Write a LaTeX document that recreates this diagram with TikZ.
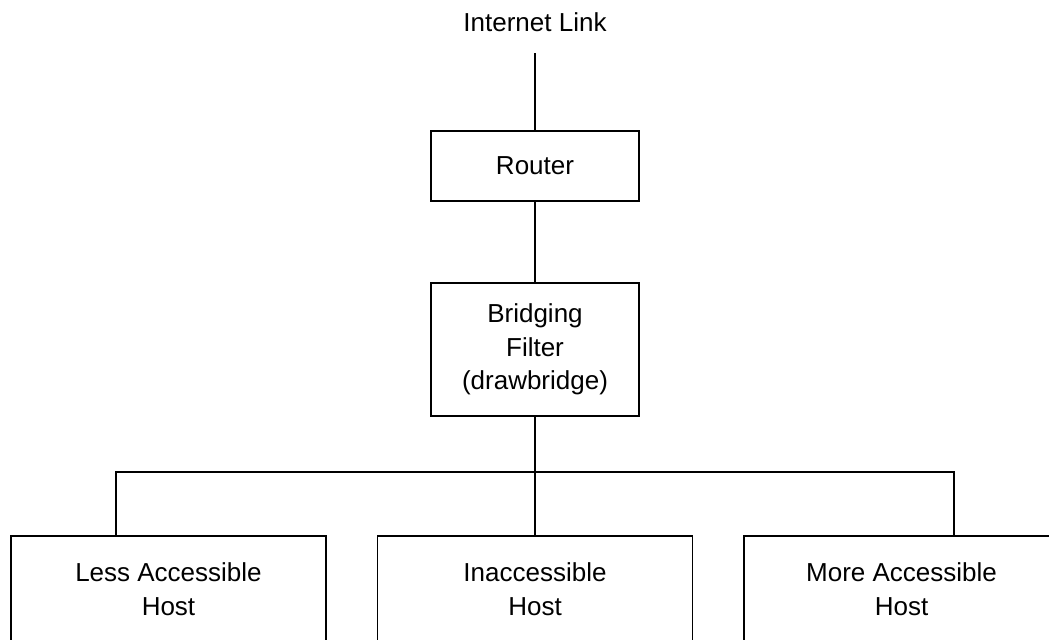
\documentclass[tikz,border=0pt]{standalone}
\usepackage{fontspec}
\setmainfont{Liberation Sans}
\usepackage{tikz}

\begin{document}
\begin{tikzpicture}[x=0.5pt,y=0.5pt,line width=0.8pt,
  every node/.style={font=\fontsize{13}{16.75}\selectfont, align=center},
  midbox/.style={draw, minimum width=104pt, inner sep=0pt},
  hostbox/.style={draw, minimum width=157.5pt, minimum height=53pt, inner sep=0pt}]
\clip (0,0) rectangle (1049,640);

\node [inner sep=0pt, anchor=base] (link) at (535,608) {Internet Link};
\node [midbox, minimum height=35pt] (router) at (535,474) {Router};
\node [midbox, minimum height=66.5pt] (bridge) at (535,290.5) {Bridging\\Filter\\(drawbridge)};

\node [hostbox] (lessHost) at (168.5,51) {Less Accessible\\Host};
\node [hostbox] (inHost) at (535,51) {Inaccessible\\Host};
\node [hostbox] (moreHost) at (901.5,51) {More Accessible\\Host};

\coordinate (bus) at (535,168);

\draw ([yshift=-10pt]link.south) -- (router);
\draw (router) -- (bridge);
\draw (bridge) -- (inHost);
\draw ([xshift=-26.25pt]lessHost.north) |- (bus) -| ([xshift=26.25pt]moreHost.north);

\end{tikzpicture}
\end{document}
